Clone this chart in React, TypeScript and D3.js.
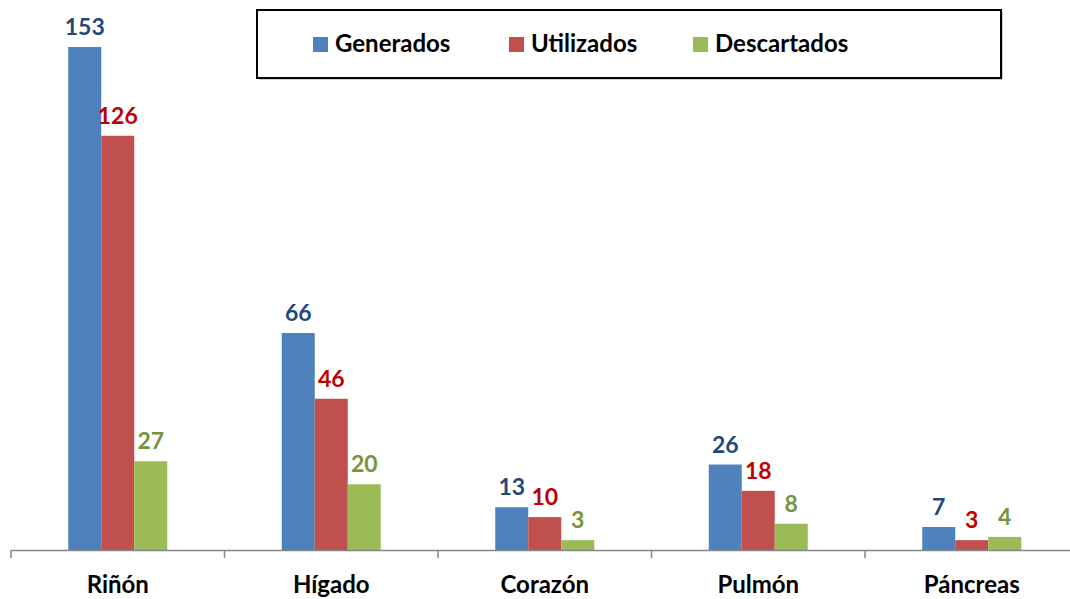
import React from "react";
import * as d3 from "d3";

const categories = ["Riñón", "Hígado", "Corazón", "Pulmón", "Páncreas"];
const seriesNames = ["Generados", "Utilizados", "Descartados"];
const generados = [153, 66, 13, 26, 7];
const utilizados = [126, 46, 10, 18, 3];
const descartados = [27, 20, 3, 8, 4];

const barColors = ["#4F81BD", "#C0504D", "#9BBB59"];
const labelColors = ["#1F497D", "#C00000", "#77933C"];
const legendX = [313, 509, 693];

export default function App() {
  const W = 1070, H = 599;
  const series = [generados, utilizados, descartados];
  const x0 = d3.scaleBand<string>().domain(categories).range([11, 11 + 213.5 * 5]).paddingInner(0).paddingOuter(0);
  const x1 = d3.scaleBand<string>().domain(seriesNames).range([57.25, 57.25 + 99]);
  const y = d3.scaleLinear().domain([0, 153]).range([550, 47]);
  const font = "Lato, 'Open Sans', sans-serif";
  return (
    <svg width={W} height={H} style={{ position: "absolute", left: 0, top: 0, background: "#fff" }} fontFamily={font}>
      {categories.map((c, i) => (
        <g key={c}>
          {series.map((s, j) => {
            const bx = (x0(c) as number) + (x1(seriesNames[j]) as number);
            const bw = x1.bandwidth();
            return (
              <g key={j}>
                <rect x={bx} y={y(s[i])} width={bw} height={y(0) - y(s[i])} fill={barColors[j]} />
                <text x={bx + bw / 2} y={y(s[i]) - 12} textAnchor="middle" fontWeight="bold" fontSize={23} fill={labelColors[j]}>{s[i]}</text>
              </g>
            );
          })}
          <text x={(x0(c) as number) + x0.bandwidth() / 2} y={593} textAnchor="middle" fontWeight="bold" fontSize={24} fill="#000">{c}</text>
        </g>
      ))}
      <line x1={11} x2={W} y1={550.5} y2={550.5} stroke="#868686" strokeWidth={1.5} />
      {d3.range(0, 6).map((k) => {
        const tx = 11 + k * 213.5;
        return <line key={k} x1={tx} x2={tx} y1={550} y2={558} stroke="#868686" strokeWidth={1.5} />;
      })}
      <rect x={259} y={12} width={744} height={68} fill="#d0d0d0" />
      <rect x={257} y={10} width={744} height={68} fill="#fff" stroke="#000" strokeWidth={2} />
      {seriesNames.map((n, j) => (
        <g key={n}>
          <rect x={legendX[j]} y={37} width={15} height={15} fill={barColors[j]} />
          <text x={legendX[j] + 22} y={52} fontWeight="bold" fontSize={24} fill="#000">{n}</text>
        </g>
      ))}
    </svg>
  );
}
